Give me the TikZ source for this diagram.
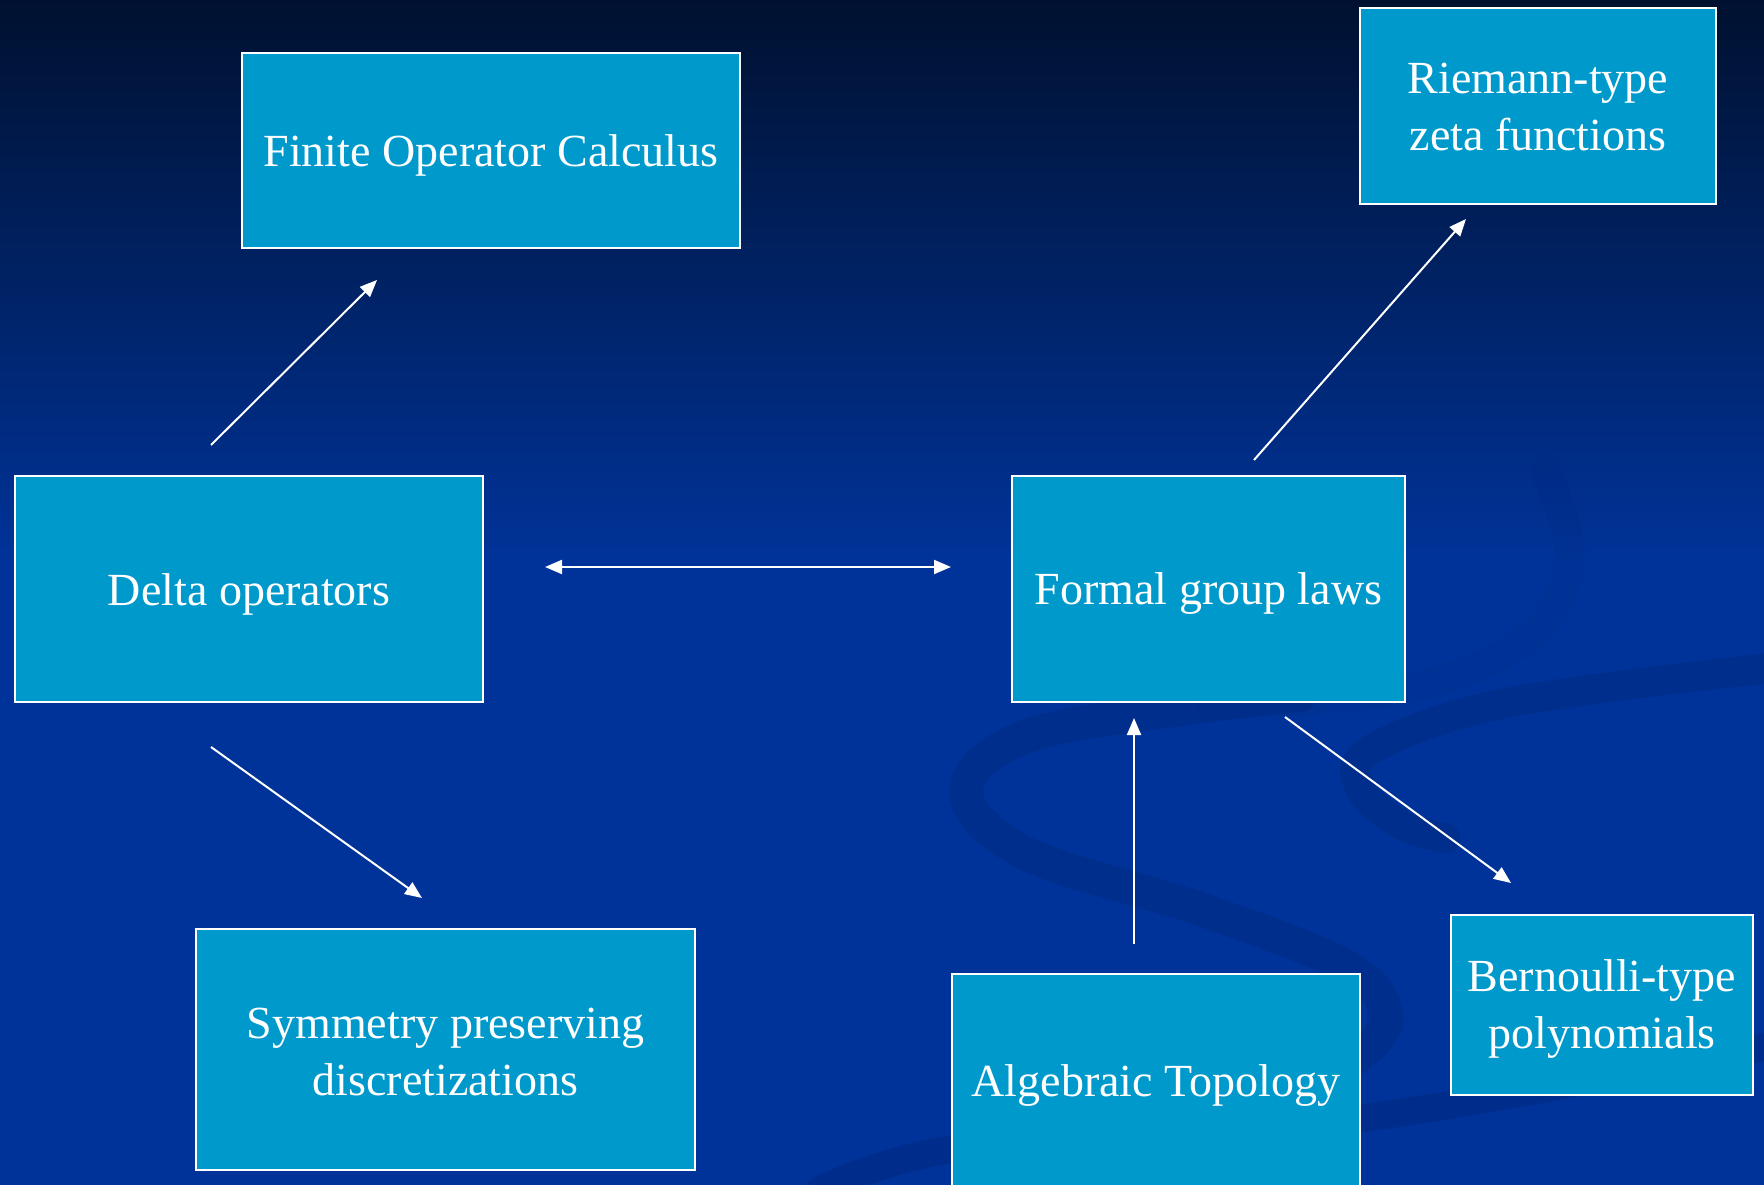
\documentclass[tikz,border=0pt]{standalone}
\usepackage{fontspec}
\setmainfont{Liberation Serif}
\usetikzlibrary{arrows.meta}
\definecolor{bgtop}{RGB}{0,17,48}
\definecolor{bgblue}{RGB}{0,51,153}
\definecolor{bandblue}{RGB}{0,40,128}
\definecolor{boxfill}{RGB}{0,153,204}
\tikzset{
  box/.style={draw=white, line width=2.2pt, fill=boxfill, inner sep=0pt},
  txt/.style={text=white, align=center, inner sep=0pt, font=\fontsize{46}{57}\selectfont},
  conn/.style={white, line width=2pt, -{Triangle[length=17pt,width=14pt]}},
  dconn/.style={white, line width=2pt, {Triangle[length=17pt,width=14pt]}-{Triangle[length=17pt,width=14pt]}},
  band/.style={bandblue, line cap=round, line join=round}
}
\begin{document}
\begin{tikzpicture}[x=1pt,y=-1pt]
% background
\useasboundingbox (0,0) rectangle (1764,1185);
\shade[top color=bgtop, bottom color=bgblue] (0,0) rectangle (1764,560);
\fill[bgblue] (0,559) rectangle (1764,1185);
% swirl bands
\draw[band, line width=30pt, opacity=0.18] plot[smooth, tension=0.6] coordinates
  {(1545,470) (1570,560) (1525,640) (1400,690) (1211,705)};
\draw[band, line width=34pt, opacity=0.45] plot[smooth, tension=0.6] coordinates
  {(1300,695) (1211,705) (1030,735) (966,790) (1025,853) (1200,909) (1345,966) (1386,1013) (1363,1052) (1300,1090)};
\draw[band, line width=30pt, opacity=0.45] plot[smooth, tension=0.6] coordinates
  {(1770,668) (1506,703) (1372,749) (1360,788) (1400,824) (1445,838)};
\draw[band, line width=28pt, opacity=0.5] plot[smooth, tension=0.5] coordinates
  {(820,1190) (960,1148) (1363,1118) (1770,1046)};
% boxes
\node[box, minimum width=498pt, minimum height=195pt] (foc) at (491,150.5) {};
\node[box, minimum width=356pt, minimum height=196pt] (riem) at (1538,106) {};
\node[box, minimum width=468pt, minimum height=226pt] (delta) at (249,589) {};
\node[box, minimum width=393pt, minimum height=226pt] (fgl) at (1208.5,589) {};
\node[box, minimum width=499pt, minimum height=241pt] (sym) at (445.5,1049.5) {};
\node[box, minimum width=408pt, minimum height=214pt] (alg) at (1156,1081) {};
\node[box, minimum width=302pt, minimum height=180pt] (bern) at (1602,1005) {};
% texts
\node[txt] (focT) at ([yshift=-5pt]foc.center) {Finite Operator Calculus};
\node[txt] (riemT) at ([yshift=-1pt]riem.center) {Riemann-type\\zeta functions};
\node[txt] (deltaT) at ([yshift=-5pt]delta.center) {Delta operators};
\node[txt] (fglT) at ([yshift=-5pt]fgl.center) {Formal group laws};
\node[txt] (symT) at ([yshift=-2pt]sym.center) {Symmetry preserving\\discretizations};
\node[txt] (algT) at ([yshift=-4pt]alg.center) {Algebraic Topology};
\node[txt] (bernT) at ([yshift=-4pt]bern.center) {Bernoulli-type\\polynomials};
% connector ends
\coordinate (d2f) at (211,445);
\coordinate (f2d) at (377,280);
\coordinate (d2s) at (211,747);
\coordinate (s2d) at (422,898);
\coordinate (dl) at (545,567);
\coordinate (fl) at (951,567);
\coordinate (g2r) at (1254,460);
\coordinate (r2g) at (1466,219);
\coordinate (g2b) at (1285,717);
\coordinate (b2g) at (1511,883);
\coordinate (a2g) at (1134,944);
\coordinate (g2a) at (1134,718);
% connectors
\draw[conn] (d2f) -- (f2d);
\draw[conn] (d2s) -- (s2d);
\draw[dconn] (dl) -- (fl);
\draw[conn] (g2r) -- (r2g);
\draw[conn] (g2b) -- (b2g);
\draw[conn] (a2g) -- (g2a);
\end{tikzpicture}
\end{document}
